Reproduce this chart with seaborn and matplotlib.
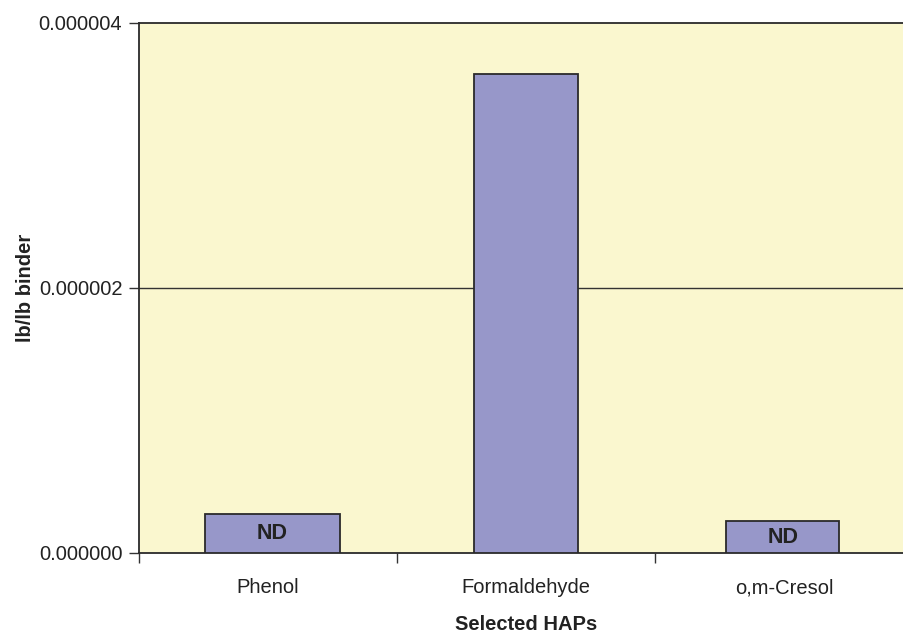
import matplotlib
matplotlib.use("Agg")
import matplotlib.pyplot as plt
from matplotlib.ticker import FixedLocator, NullFormatter, FixedFormatter
import seaborn as sns
import pandas as pd

# Emission factors for selected hazardous air pollutants
compounds = ["Phenol", "Formaldehyde", "o,m-Cresol"]
emissions = [2.96e-7, 3.61e-6, 2.40e-7]
detect_labels = ["ND", "", "ND"]
y_ticks = [0.0, 0.000002, 0.000004]
y_tick_labels = ["0.000000", "0.000002", "0.000004"]

# relative bar widths (fraction of category slot) and their centre nudges
bar_widths = [0.525, 0.40, 0.44]
bar_nudge = [0.017, 0.0, -0.005]

sns.set_theme(style="white")
plt.rcParams["font.family"] = ["Liberation Sans Narrow", "Liberation Sans", "DejaVu Sans"]

FS = 14.5
INK = "#222222"

df = pd.DataFrame({"compound": compounds, "value": emissions})

fig = plt.figure(figsize=(9.04, 6.37), dpi=100)
ax = fig.add_axes([139 / 904, 84 / 637, 774 / 904, 530.5 / 637])
ax.set_facecolor("#FAF7CF")

sns.barplot(data=df, x="compound", y="value", color="#9797C9", saturation=1,
            edgecolor="#2a2a2a", linewidth=1.3, width=0.45, ax=ax, zorder=3)

for i, patch in enumerate(ax.patches):
    c = i + bar_nudge[i]
    patch.set_width(bar_widths[i])
    patch.set_x(c - bar_widths[i] / 2)
    if detect_labels[i]:
        ax.text(c, emissions[i] / 2, detect_labels[i], ha="center", va="center",
                fontsize=FS + 1, fontweight="bold", color=INK, zorder=4)

ax.set_xlim(-0.5, 2.5)
ax.set_ylim(0, 0.000004)

# horizontal gridline at the middle tick
ax.axhline(0.000002, color="#333333", linewidth=1.0, zorder=1)

ax.set_yticks(y_ticks)
ax.set_yticklabels(y_tick_labels, fontsize=FS, color=INK)
ax.tick_params(axis="y", which="major", direction="out", length=7, width=1,
               color="#333333", pad=5, left=True)

# category separators as major ticks, names as minor tick labels
ax.xaxis.set_major_locator(FixedLocator([-0.5, 0.5, 1.5, 2.5]))
ax.xaxis.set_major_formatter(NullFormatter())
ax.xaxis.set_minor_locator(FixedLocator([0, 1, 2]))
ax.xaxis.set_minor_formatter(FixedFormatter(compounds))
ax.tick_params(axis="x", which="major", direction="out", length=7, width=1,
               color="#333333", bottom=True)
ax.tick_params(axis="x", which="minor", length=0, pad=18, labelsize=FS,
               labelcolor=INK, bottom=True)

for side in ["left", "top", "bottom"]:
    ax.spines[side].set_visible(True)
    ax.spines[side].set_color("#2a2a2a")
    ax.spines[side].set_linewidth(1.3)
ax.spines["right"].set_visible(False)

ax.set_xlabel("Selected HAPs", fontsize=FS, fontweight="bold", color=INK)
ax.xaxis.set_label_coords(0.5, -0.135)
ax.xaxis.label.set_va("center")
ax.set_ylabel("lb/lb binder", fontsize=FS, fontweight="bold", color=INK)
ax.yaxis.set_label_coords(-0.147, 0.5)
ax.yaxis.label.set_va("center")

fig.savefig("out.png", dpi=100, facecolor="white")
